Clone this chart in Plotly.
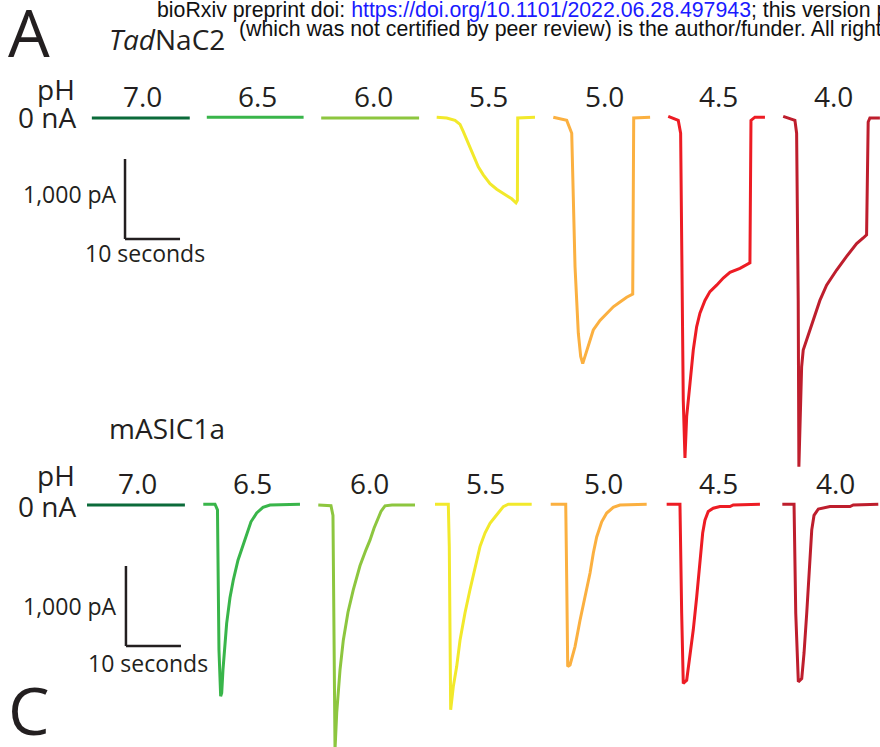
import plotly.graph_objects as go

W, H = 880, 747

# ---------------- data ----------------
PH_LABELS = ["7.0", "6.5", "6.0", "5.5", "5.0", "4.5", "4.0"]
COLORS = ["#0b6b3a", "#39b54a", "#8dc63f", "#f2e92b", "#fbb040", "#ed1c24", "#be1e2d"]

# TadNaC2 (time in s from start of each sweep window, current in nA)
TAD_START = [16.7, 37.6, 58.4, 79.4, 100.6, 121.5, 142.4]
TAD_T_70 = [0, 4, 8, 12, 17.8]
TAD_I_70 = [0.0, 0.0, 0.0, 0.0, 0.0]
TAD_T_65 = [0, 6, 12, 17.6]
TAD_I_65 = [0.01, 0.01, 0.01, 0.01]
TAD_T_60 = [0, 6, 12, 17.8]
TAD_I_60 = [0.0, 0.0, 0.0, 0.0]
TAD_T_55 = [0, 1.82, 3.33, 4.24, 4.84, 5.75, 6.65, 7.56, 8.47, 9.69, 10.91, 12.42, 13.64, 14.42, 14.67, 14.73, 17.87]
TAD_I_55 = [0.01, 0.0, -0.03, -0.08, -0.17, -0.32, -0.48, -0.61, -0.71, -0.82, -0.89, -0.96, -1.01, -1.06, -1.03, 0.0, 0.01]
TAD_T_50 = [0, 2.44, 3.35, 3.64, 3.95, 4.55, 4.98, 5.35, 5.76, 6.36, 7.27, 8.49, 9.71, 10.91, 12.13, 13.35, 14.44, 14.62, 17.6]
TAD_I_50 = [0.01, -0.03, -0.19, -1.03, -1.86, -2.69, -2.98, -3.07, -2.98, -2.82, -2.65, -2.53, -2.44, -2.36, -2.30, -2.24, -2.20, 0.0, 0.01]
TAD_T_45 = [0, 1.82, 2.25, 2.44, 2.73, 3.04, 3.35, 3.95, 4.55, 5.16, 5.76, 6.67, 7.58, 8.80, 10.0, 11.22, 13.04, 14.85, 15.04, 15.76, 17.58]
TAD_I_45 = [0.02, -0.03, -0.19, -1.86, -3.53, -4.25, -3.73, -3.32, -2.90, -2.61, -2.44, -2.28, -2.17, -2.09, -2.00, -1.93, -1.88, -1.81, -0.03, 0.01, 0.01]
TAD_T_40 = [0, 2.13, 2.44, 2.73, 2.85, 3.35, 3.64, 4.25, 5.45, 6.67, 7.89, 9.71, 11.53, 13.35, 14.55, 15.16, 15.45, 15.76, 17.58]
TAD_I_40 = [0.02, -0.03, -0.19, -2.28, -4.36, -3.11, -2.90, -2.78, -2.53, -2.28, -2.09, -1.90, -1.73, -1.57, -1.50, -1.46, -0.05, 0.0, 0.0]

# mASIC1a
ASIC_START = [15.82, 36.96, 57.87, 79.09, 100.13, 121.21, 142.24]
ASIC_T_70 = [0, 4, 8, 12, 17.8]
ASIC_I_70 = [0.0, 0.0, 0.0, 0.0, 0.0]
ASIC_T_65 = [0, 2.13, 2.58, 2.73, 2.85, 3.16, 3.35, 3.58, 4.25, 4.85, 5.45, 6.31, 7.22, 7.95, 8.67, 9.71, 10.85, 12.13, 17.58]
ASIC_I_65 = [0.01, 0.01, -0.06, -0.94, -1.81, -2.39, -2.35, -2.06, -1.48, -1.16, -0.94, -0.69, -0.50, -0.34, -0.21, -0.10, -0.03, 0.0, 0.01]
ASIC_T_60 = [0, 2.31, 2.67, 2.76, 2.89, 3.04, 3.35, 3.95, 4.55, 5.40, 6.36, 7.58, 8.67, 9.40, 10.13, 10.85, 11.40, 12.13, 13.40, 17.58]
ASIC_I_60 = [0.0, -0.01, -0.13, -1.19, -2.44, -3.06, -2.60, -2.06, -1.69, -1.34, -1.06, -0.76, -0.56, -0.44, -0.29, -0.16, -0.08, -0.01, 0.0, 0.0]
ASIC_T_55 = [0, 2.42, 2.60, 2.73, 2.85, 3.33, 3.94, 4.55, 5.45, 6.36, 7.27, 8.18, 9.09, 10.0, 10.91, 11.82, 12.42, 13.33, 17.58]
ASIC_I_55 = [0.01, 0.01, -0.52, -1.77, -2.56, -2.27, -2.02, -1.69, -1.35, -1.06, -0.77, -0.52, -0.35, -0.23, -0.15, -0.08, -0.02, 0.01, 0.01]
ASIC_T_50 = [0, 2.73, 2.91, 3.09, 3.51, 4.42, 5.33, 6.24, 7.15, 7.75, 8.36, 9.27, 10.18, 11.38, 12.6, 17.45]
ASIC_I_50 = [0.01, 0.01, -0.94, -2.02, -2.00, -1.77, -1.44, -1.15, -0.85, -0.60, -0.40, -0.21, -0.10, -0.03, 0.0, 0.01]
ASIC_T_45 = [0, 2.42, 2.73, 3.02, 3.64, 4.24, 4.84, 5.46, 6.05, 6.55, 6.96, 7.56, 8.47, 9.69, 11.51, 12.11, 16.96]
ASIC_I_45 = [0.01, 0.01, -1.35, -2.23, -2.19, -1.90, -1.56, -1.15, -0.73, -0.35, -0.19, -0.08, -0.04, -0.02, -0.02, 0.0, 0.01]
ASIC_T_40 = [0, 2.13, 2.44, 2.91, 3.53, 3.95, 4.44, 4.91, 5.35, 5.76, 6.55, 8.67, 12.31, 12.91, 17.45]
ASIC_I_40 = [0.01, 0.01, -1.35, -2.21, -2.17, -1.85, -1.35, -0.77, -0.31, -0.13, -0.05, -0.02, -0.02, 0.0, 0.01]

TAD_T = [TAD_T_70, TAD_T_65, TAD_T_60, TAD_T_55, TAD_T_50, TAD_T_45, TAD_T_40]
TAD_I = [TAD_I_70, TAD_I_65, TAD_I_60, TAD_I_55, TAD_I_50, TAD_I_45, TAD_I_40]
ASIC_T = [ASIC_T_70, ASIC_T_65, ASIC_T_60, ASIC_T_55, ASIC_T_50, ASIC_T_45, ASIC_T_40]
ASIC_I = [ASIC_I_70, ASIC_I_65, ASIC_I_60, ASIC_I_55, ASIC_I_50, ASIC_I_45, ASIC_I_40]

SCALE_T = 10.0   # s
SCALE_I = 1.0    # nA (1,000 pA)

# ---------------- figure ----------------
PX_PER_S = 5.5
PX_PER_NA = 80.0
fig = go.Figure()

for k in range(len(PH_LABELS)):
    fig.add_trace(go.Scatter(
        x=[TAD_START[k] + t for t in TAD_T[k]], y=TAD_I[k], yaxis="y",
        mode="lines", line=dict(color=COLORS[k], width=3), hoverinfo="skip",
        showlegend=False))
    fig.add_trace(go.Scatter(
        x=[ASIC_START[k] + t for t in ASIC_T[k]], y=ASIC_I[k], yaxis="y2",
        mode="lines", line=dict(color=COLORS[k], width=3), hoverinfo="skip",
        showlegend=False))

INK = "#231f20"
# scale bars
bars = [("y", 22.73, -0.5125), ("y2", 22.9, -0.7625)]
for yref, x0, ytop in bars:
    fig.add_shape(type="line", xref="x", yref=yref, x0=x0, x1=x0,
                  y0=ytop, y1=ytop - SCALE_I, line=dict(color=INK, width=2.5))
    fig.add_shape(type="line", xref="x", yref=yref, x0=x0, x1=x0 + SCALE_T,
                  y0=ytop - SCALE_I, y1=ytop - SCALE_I, line=dict(color=INK, width=2.5))


def P(px, py):
    return px / W, 1 - py / H


FONT = "Open Sans"
anns = []


def text(s, px, py, size, xanchor="center", color=INK, family=FONT):
    x, y = P(px, py)
    anns.append(dict(text=s, x=x, y=y, xref="paper", yref="paper", xanchor=xanchor,
                     yanchor="middle", showarrow=False,
                     font=dict(size=size, color=color, family=family)))


# header
text("bioRxiv preprint doi: <span style='color:#1a1aff'>https://doi.org/10.1101/2022.06.28.497943</span>; this version posted June 29, 2022. The copyright holder for this preprint",
     155, 10, 21.3, xanchor="left", color="#111111", family="Liberation Sans")
text("(which was not certified by peer review) is the author/funder. All rights reserved. No reuse allowed without permission.",
     237, 29, 21.3, xanchor="left", color="#111111", family="Liberation Sans")

text("A", 29, 31, 66)
text("C", 29, 709, 66)
text("<i>Tad</i>NaC2", 107, 39, 28, xanchor="left")
text("mASIC1a", 107, 428, 28, xanchor="left")

TAD_LABEL_X = [142, 257, 373, 488, 604, 718, 833]
ASIC_LABEL_X = [137, 252, 369, 485, 603, 718, 835]
for k, lab in enumerate(PH_LABELS):
    text(lab, TAD_LABEL_X[k], 96, 28)
    text(lab, ASIC_LABEL_X[k], 483, 28)

text("pH", 77, 89, 28, xanchor="right")
text("0 nA", 78, 117, 28, xanchor="right")
text("pH", 77, 475, 28, xanchor="right")
text("0 nA", 78, 506, 28, xanchor="right")

text("1,000 pA", 119, 194, 23, xanchor="right")
text("10 seconds", 145, 253, 23)
text("1,000 pA", 119, 606, 23, xanchor="right")
text("10 seconds", 148, 663, 23)

y_top_base = 118   # 0 nA line of TadNaC2, px from top
y_bot_base = 505   # 0 nA line of mASIC1a, px from top

fig.update_layout(
    width=W, height=H, margin=dict(l=0, r=0, t=0, b=0),
    paper_bgcolor="white", plot_bgcolor="white",
    xaxis=dict(range=[0, W / PX_PER_S], visible=False, fixedrange=True),
    yaxis=dict(range=[-(H - y_top_base) / PX_PER_NA, y_top_base / PX_PER_NA],
               visible=False, fixedrange=True),
    yaxis2=dict(range=[-(H - y_bot_base) / PX_PER_NA, y_bot_base / PX_PER_NA],
                visible=False, overlaying="y", fixedrange=True),
    annotations=anns, showlegend=False,
)

fig.write_html("out.html", config={"displayModeBar": False},
               post_script="document.body.style.margin='0px';document.body.style.overflow='hidden';")
